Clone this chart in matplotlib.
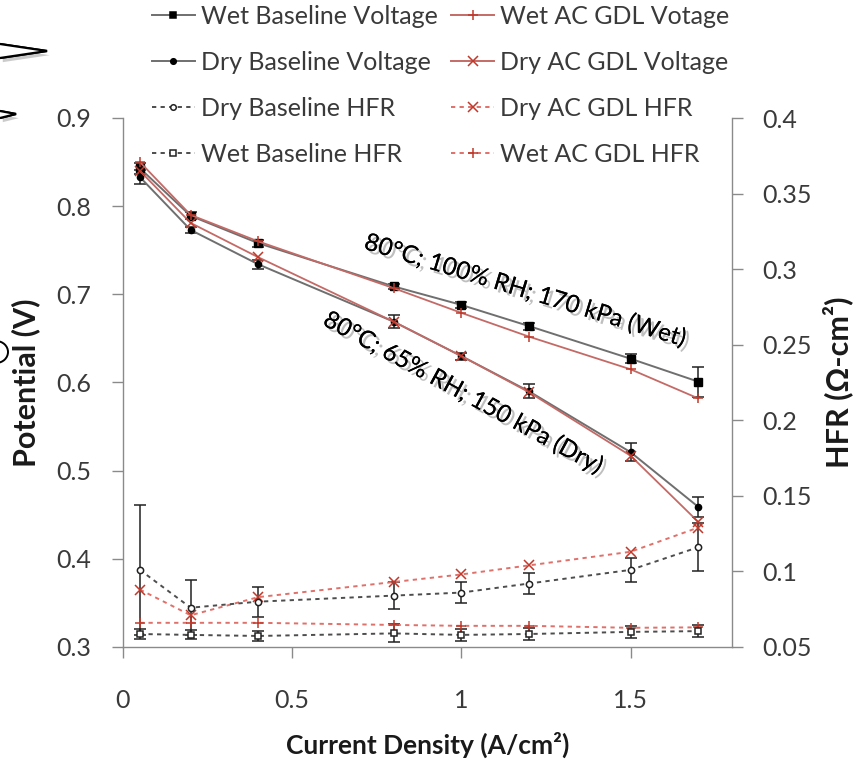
import matplotlib
matplotlib.use("Agg")
import matplotlib.pyplot as plt
from matplotlib import patheffects as pe
from matplotlib.lines import Line2D
from matplotlib.patches import Polygon, Ellipse

plt.rcParams['font.family'] = ['Lato', 'DejaVu Sans']

# ---- data -------------------------------------------------------------
current = [0.05, 0.2, 0.4, 0.8, 1.0, 1.2, 1.5, 1.7]

wet_base_v = [0.843, 0.789, 0.758, 0.709, 0.688, 0.664, 0.627, 0.601]
wet_base_v_err = [0.006, 0.004, 0.004, 0.003, 0.003, 0.004, 0.005, 0.017]
dry_base_v = [0.833, 0.773, 0.734, 0.669, 0.630, 0.590, 0.521, 0.459]
dry_base_v_err = [0.008, 0.003, 0.005, 0.007, 0.004, 0.008, 0.010, 0.011]
wet_ac_v = [0.850, 0.790, 0.760, 0.707, 0.679, 0.652, 0.615, 0.582]
dry_ac_v = [0.840, 0.781, 0.742, 0.669, 0.630, 0.589, 0.517, 0.442]

dry_base_hfr = [0.101, 0.076, 0.080, 0.084, 0.086, 0.092, 0.101, 0.116]
dry_base_hfr_err = [0.043, 0.018, 0.010, 0.009, 0.007, 0.007, 0.008, 0.016]
wet_base_hfr = [0.0586, 0.058, 0.0573, 0.059, 0.058, 0.0586, 0.060, 0.0605]
wet_base_hfr_err = [0.003, 0.003, 0.003, 0.006, 0.004, 0.004, 0.004, 0.004]
dry_ac_hfr = [0.088, 0.071, 0.083, 0.093, 0.098, 0.104, 0.113, 0.129]
wet_ac_hfr = [0.066, 0.066, 0.066, 0.0646, 0.064, 0.064, 0.0627, 0.063]

x_ticks = [0, 0.5, 1, 1.5]
v_ticks = [0.3, 0.4, 0.5, 0.6, 0.7, 0.8, 0.9]
hfr_ticks = [0.05, 0.1, 0.15, 0.2, 0.25, 0.3, 0.35, 0.4]
hfr_labels = ['0.05', '0.1', '0.15', '0.2', '0.25', '0.3', '0.35', '0.4']

note_wet = '80°C; 100% RH; 170 kPa (Wet)'
note_dry = '80°C; 65% RH; 150 kPa (Dry)'

# ---- styling ----------------------------------------------------------
W, H = 866, 764
GRAY_LINE = '#6f6f6f'
RED_LINE = '#c46a66'
RED_MK = '#c0392b'
DOT_GRAY = '#4d4d4d'
DOT_RED = '#e0706a'
AXIS_GRAY = '#8a8a8a'
TEXT = '#3a3a3a'

fig = plt.figure(figsize=(W / 100, H / 100), dpi=100)
ax = fig.add_axes([123 / W, 1 - 647 / H, (732 - 123) / W, (647 - 118) / H])
ax2 = ax.twinx()

# HFR on the secondary axis (drawn first so voltages sit on top)
dotted = (0, (2.2, 2.2))
ax2.errorbar(current, dry_base_hfr, yerr=dry_base_hfr_err, color=DOT_GRAY,
             ls=dotted, lw=1.4, marker='o', ms=4.5, mfc='white', mec='#222222',
             mew=1.1, ecolor='#222222', elinewidth=1.1, capsize=4, capthick=1.1)
ax2.errorbar(current, wet_base_hfr, yerr=wet_base_hfr_err, color=DOT_GRAY,
             ls=dotted, lw=1.4, marker='s', ms=5, mfc='white', mec='#222222',
             mew=1.1, ecolor='#222222', elinewidth=1.1, capsize=4, capthick=1.1)
ax2.plot(current, dry_ac_hfr, color=DOT_RED, ls=dotted, lw=1.4, marker='x',
         ms=7, mec=RED_MK, mew=1.1)
ax2.plot(current, wet_ac_hfr, color=DOT_RED, ls=dotted, lw=1.4, marker='+',
         ms=7, mec=RED_MK, mew=1.1)

# Polarisation curves on the primary axis
ax.errorbar(current, dry_base_v, yerr=dry_base_v_err, color=GRAY_LINE, lw=1.4,
            marker='o', ms=4.5, mfc='black', mec='black', ecolor='#222222',
            elinewidth=1.1, capsize=4, capthick=1.1, zorder=3)
ax.plot(current, dry_ac_v, color=RED_LINE, lw=1.3, marker='x', ms=7,
        mec=RED_MK, mew=1.1, zorder=4)
ax.errorbar(current, wet_base_v, yerr=wet_base_v_err, color=GRAY_LINE, lw=1.4,
            marker='s', ms=6, mfc='black', mec='black', ecolor='#222222',
            elinewidth=1.1, capsize=4, capthick=1.1, zorder=3)
ax.plot(current, wet_ac_v, color=RED_LINE, lw=1.3, marker='+', ms=7,
        mec=RED_MK, mew=1.1, zorder=4)

ax.set_zorder(ax2.get_zorder() + 1)
ax.patch.set_visible(False)

# ---- axes -------------------------------------------------------------
ax.set_xlim(0, 1.8)
ax.set_ylim(0.3, 0.9)
ax2.set_ylim(0.05, 0.4)
ax.set_xticks(x_ticks)
ax.set_xticklabels(['0', '0.5', '1', '1.5'])
ax.set_yticks(v_ticks)
ax.set_yticklabels([f'{v:.1f}' for v in v_ticks])
ax2.set_yticks(hfr_ticks)
ax2.set_yticklabels(hfr_labels)

for a in (ax, ax2):
    for s in a.spines.values():
        s.set_color(AXIS_GRAY)
        s.set_linewidth(1.0)
    a.spines['top'].set_visible(False)
ax.spines['right'].set_visible(False)
ax2.spines['left'].set_visible(False)
ax2.spines['bottom'].set_visible(False)

ax.tick_params(axis='x', direction='out', length=8, width=1, color=AXIS_GRAY,
               labelsize=18, labelcolor=TEXT, pad=22)
ax.tick_params(axis='y', direction='out', length=8, width=1, color=AXIS_GRAY,
               labelsize=18, labelcolor=TEXT, pad=15)
ax2.tick_params(axis='y', direction='out', length=8, width=1, color=AXIS_GRAY,
                labelsize=18, labelcolor=TEXT, pad=14)

label_kw = dict(fontweight='bold', color='#1a1a1a')
ax.set_xlabel('Current Density (A/cm²)', va='center', fontsize=19, **label_kw)
ax.xaxis.set_label_coords(0.5, (647 - 745) / 529)
ax.set_ylabel('Potential (V)', va='center', fontsize=22, **label_kw)
ax.yaxis.set_label_coords((26 - 123) / 609, 0.5)
ax2.set_ylabel('HFR (Ω-cm²)', va='center', rotation=90, fontsize=22,
               **label_kw)
ax2.yaxis.set_label_coords((838 - 123) / 609, 0.5)

# ---- condition notes with a soft drop shadow --------------------------
shadow = [pe.withSimplePatchShadow(offset=(2.5, -2.5), shadow_rgbFace='#8c8c8c',
                                   alpha=0.55), pe.Normal()]
fig.text(525 / W, 1 - 291 / H, note_wet, rotation=-17, rotation_mode='anchor',
         ha='center', va='center', fontsize=17.5, color='black',
         path_effects=shadow)
fig.text(463 / W, 1 - 393 / H, note_dry, rotation=-28.5, rotation_mode='anchor',
         ha='center', va='center', fontsize=17.5, color='black',
         path_effects=shadow)

# ---- legend -----------------------------------------------------------
def handle(color, ls, marker, ms, mfc, mec):
    return Line2D([], [], color=color, ls=ls, lw=1.4, marker=marker, ms=ms,
                  mfc=mfc, mec=mec, mew=1.1)

handles = [
    handle(GRAY_LINE, '-', 's', 5, 'black', 'black'),
    handle(GRAY_LINE, '-', 'o', 4, 'black', 'black'),
    handle(DOT_GRAY, dotted, 'o', 4, 'white', '#222222'),
    handle(DOT_GRAY, dotted, 's', 5, 'white', '#222222'),
    handle(RED_LINE, '-', '+', 7, RED_MK, RED_MK),
    handle(RED_LINE, '-', 'x', 7, RED_MK, RED_MK),
    handle(DOT_RED, dotted, 'x', 7, RED_MK, RED_MK),
    handle(DOT_RED, dotted, '+', 7, RED_MK, RED_MK),
]
labels = ['Wet Baseline Voltage', 'Dry Baseline Voltage', 'Dry Baseline HFR',
          'Wet Baseline HFR', 'Wet AC GDL Votage', 'Dry AC GDL Voltage',
          'Dry AC GDL HFR', 'Wet AC GDL HFR']
leg = fig.legend(handles, labels, ncol=2, loc='upper left',
                 bbox_to_anchor=(152 / W, 1 - 5 / H), frameon=False,
                 fontsize=18, labelcolor=TEXT, handlelength=1.7,
                 handletextpad=0.25, columnspacing=0.55, labelspacing=0.92,
                 borderpad=0, borderaxespad=0)

# ---- callout fragments at the left edge --------------------------------
frag_shadow = [pe.withSimplePatchShadow(offset=(2, -3), shadow_rgbFace='#999999',
                                        alpha=0.5), pe.Normal()]
for pts in ([(0, 44), (47, 51), (0, 58)], [(0, 111), (16, 114), (0, 118)]):
    fig.add_artist(Polygon([(x / W, 1 - y / H) for x, y in pts], closed=False,
                           transform=fig.transFigure, facecolor='white',
                           edgecolor='black', lw=1.6, path_effects=frag_shadow))
fig.add_artist(Ellipse((-4 / W, 1 - 352 / H), 24 / W, 22 / H,
                       transform=fig.transFigure, facecolor='none',
                       edgecolor='black', lw=1.4))

fig.savefig('out.png', dpi=100)
